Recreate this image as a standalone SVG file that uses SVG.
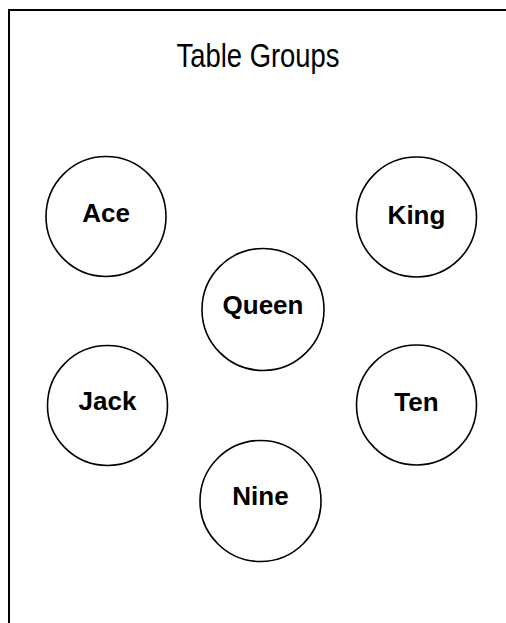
<svg xmlns="http://www.w3.org/2000/svg" width="506" height="623" viewBox="0 0 506 623">
<style>
.frame{fill:none;stroke:#000;stroke-width:2}
.node circle{fill:#fff;stroke:#000;stroke-width:1.6}
.node text{font-family:"Liberation Sans",Arial,sans-serif;font-weight:bold;font-size:26px;text-anchor:middle;fill:#000}
.title{font-family:"Liberation Sans",Arial,sans-serif;font-size:33px;text-anchor:middle;fill:#000}
</style>
<rect width="506" height="623" fill="#fff"/>
<rect class="frame" x="9" y="10" width="520" height="640"/>
<text class="title" x="258" y="66.5" textLength="163" lengthAdjust="spacingAndGlyphs">Table Groups</text>
<g id="connectors"></g>
<g id="ace" class="node"><circle cx="106" cy="216.5" r="60"/><text x="106" y="222">Ace</text></g>
<g id="king" class="node"><circle cx="416.5" cy="217" r="60"/><text x="416.5" y="224">King</text></g>
<g id="queen" class="node"><circle cx="263" cy="309.5" r="61"/><text x="263" y="314">Queen</text></g>
<g id="jack" class="node"><circle cx="107.5" cy="405.5" r="60"/><text x="107.5" y="410">Jack</text></g>
<g id="ten" class="node"><circle cx="416.5" cy="405" r="60"/><text x="416.5" y="410.5">Ten</text></g>
<g id="nine" class="node"><circle cx="260.5" cy="501" r="60.5"/><text x="260.5" y="505">Nine</text></g>
</svg>
